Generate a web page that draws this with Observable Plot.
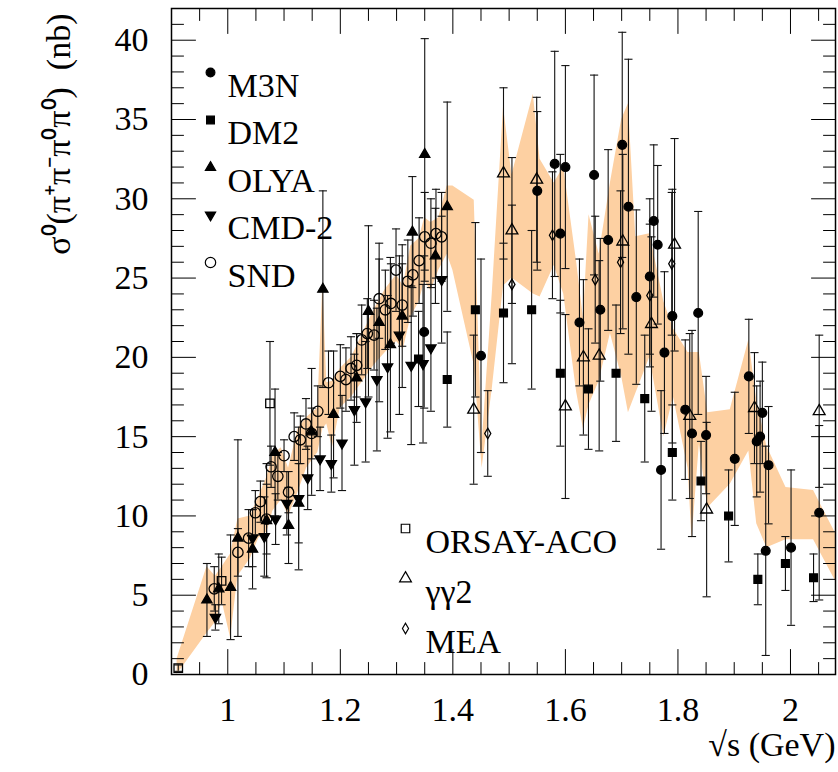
<!DOCTYPE html>
<html>
<head>
<meta charset="utf-8">
<script src="https://cdn.jsdelivr.net/npm/d3@7"></script>
<script src="https://cdn.jsdelivr.net/npm/@observablehq/plot@0.6"></script>
<style>
  html, body { margin: 0; padding: 0; background: #fff; }
  #chart { width: 838px; height: 772px; }
  #chart svg, #chart svg text { font-family: "Liberation Serif", "Times New Roman", serif !important; }
</style>
</head>
<body>
<div id="chart"></div>
<script>
// e+e- -> pi+ pi- pi0 pi0 cross section: sqrt(s) in GeV, sigma in nb, total error in nb

const m3nX   = [1.349, 1.450, 1.550, 1.581, 1.591, 1.600, 1.625, 1.651, 1.662, 1.676, 1.701, 1.712, 1.726, 1.750, 1.757, 1.764, 1.770, 1.776, 1.790, 1.813, 1.825, 1.836, 1.850, 1.901, 1.926, 1.940, 1.946, 1.950, 1.956, 1.961, 2.001, 2.051];
const m3nY   = [21.6, 20.1, 30.5, 32.2, 27.8, 32.0, 22.2, 31.5, 23.0, 27.4, 33.4, 29.5, 23.8, 25.1, 28.6, 27.1, 12.9, 20.3, 22.6, 16.7, 15.2, 22.8, 15.1, 13.6, 18.8, 14.7, 15.0, 16.5, 7.8, 13.2, 8.0, 10.2];
const m3nErr = [4.8, 6.1, 5.0, 7.1, 5.0, 6.4, 4.0, 6.3, 4.5, 5.7, 7.1, 9.3, 5.5, 4.9, 4.8, 5.0, 5.0, 5.1, 8.0, 4.4, 6.5, 6.4, 3.7, 4.2, 3.6, 3.5, 3.5, 3.2, 6.6, 3.7, 4.9, 5.5];

const dm2X   = [1.339, 1.390, 1.440, 1.490, 1.540, 1.591, 1.641, 1.690, 1.741, 1.790, 1.841, 1.890, 1.942, 1.991, 2.041];
const dm2Y   = [19.9, 18.6, 23.0, 22.8, 23.0, 19.0, 18.0, 19.0, 17.4, 14.0, 12.2, 10.0, 6.0, 7.0, 6.1];
const dm2Err = [3.0, 3.0, 5.5, 4.4, 5.0, 4.6, 3.8, 4.3, 4.0, 3.0, 2.5, 2.9, 1.6, 1.7, 1.5];

const olyaX   = [0.963, 0.984, 1.005, 1.018, 1.044, 1.069, 1.084, 1.108, 1.126, 1.149, 1.169, 1.188, 1.229, 1.250, 1.269, 1.289, 1.310, 1.328, 1.350, 1.369, 1.390];
const olyaY   = [4.7, 5.4, 5.5, 8.6, 7.9, 9.7, 14.0, 9.4, 10.8, 15.3, 24.3, 16.4, 18.7, 22.9, 22.2, 20.8, 22.6, 27.9, 32.8, 26.4, 29.5];
const olyaErr = [2.3, 2.2, 3.3, 6.2, 2.5, 3.6, 4.0, 2.4, 2.5, 4.0, 6.2, 4.0, 2.8, 5.4, 5.0, 5.5, 4.5, 3.5, 7.3, 3.0, 6.6];

const cmdX   = [0.978, 1.044, 1.065, 1.085, 1.105, 1.126, 1.142, 1.164, 1.184, 1.203, 1.225, 1.245, 1.265, 1.284, 1.305, 1.326, 1.347, 1.361, 1.380];
const cmdY   = [3.6, 8.6, 8.7, 9.8, 10.8, 11.1, 12.4, 13.6, 13.3, 14.6, 16.7, 17.2, 18.6, 19.4, 21.4, 19.5, 19.6, 20.6, 24.9];
const cmdErr = [0.8, 1.8, 2.5, 1.6, 2.0, 4.5, 2.0, 2.0, 1.8, 3.0, 3.5, 3.8, 4.5, 4.5, 5.0, 5.0, 5.0, 4.0, 4.0];

const sndX   = [0.976, 1.018, 1.037, 1.049, 1.058, 1.069, 1.077, 1.089, 1.100, 1.108, 1.118, 1.129, 1.139, 1.149, 1.160, 1.179, 1.200, 1.210, 1.219, 1.229, 1.238, 1.248, 1.260, 1.269, 1.280, 1.290, 1.299, 1.310, 1.320, 1.329, 1.340, 1.350, 1.361, 1.370, 1.380];
const sndY   = [5.4, 7.7, 8.6, 10.2, 10.9, 9.8, 13.1, 12.5, 13.8, 11.5, 15.0, 14.8, 15.8, 15.2, 16.6, 18.4, 18.8, 18.6, 19.3, 19.5, 21.1, 21.5, 21.4, 23.7, 23.0, 23.4, 25.5, 23.3, 24.8, 25.2, 26.1, 27.6, 27.2, 27.8, 27.6];
const sndErr = [1.4, 1.5, 1.8, 1.4, 1.3, 2.2, 1.3, 1.5, 1.0, 1.3, 1.5, 1.5, 1.6, 1.6, 1.6, 2.0, 2.0, 2.0, 2.0, 2.0, 2.2, 2.2, 2.2, 2.5, 2.5, 2.5, 2.6, 2.6, 2.6, 2.6, 2.7, 2.8, 2.8, 2.8, 2.8];

const orsayX   = [0.912, 0.989, 1.075];
const orsayY   = [0.4, 5.9, 17.1];
const orsayErr = [0.2, 1.5, 3.9];

const gg2X   = [1.437, 1.490, 1.505, 1.549, 1.600, 1.632, 1.660, 1.702, 1.753, 1.794, 1.821, 1.851, 1.936, 2.051];
const gg2Y   = [16.7, 31.6, 28.0, 31.2, 16.9, 20.0, 20.1, 27.3, 22.1, 27.1, 16.3, 10.4, 16.8, 16.6];
const gg2Err = [4.7, 5.4, 4.6, 5.2, 5.8, 4.9, 6.0, 5.5, 5.5, 6.7, 5.2, 5.5, 3.5, 4.8];

const meaX   = [1.462, 1.505, 1.577, 1.653, 1.698, 1.750, 1.789];
const meaY   = [15.2, 24.6, 27.7, 24.9, 26.0, 23.9, 25.9];
const meaErr = [2.7, 5.0, 4.0, 4.0, 4.5, 4.5, 4.5];

// combined cross section band: lower and upper edges
const bandX  = [0.910, 0.963, 0.978, 0.990, 1.005, 1.018, 1.040, 1.055, 1.070, 1.080, 1.095, 1.108, 1.125, 1.140, 1.160, 1.169, 1.176, 1.186, 1.200, 1.220, 1.240, 1.260, 1.280, 1.300, 1.312, 1.325, 1.340, 1.350, 1.361, 1.375, 1.390, 1.400, 1.438, 1.452, 1.470, 1.490, 1.505, 1.543, 1.555, 1.580, 1.597, 1.620, 1.632, 1.642, 1.660, 1.680, 1.700, 1.712, 1.725, 1.750, 1.775, 1.792, 1.818, 1.825, 1.838, 1.853, 1.893, 1.926, 1.940, 1.958, 1.992, 2.041, 2.080];
const bandLo = [0.0, 2.6, 3.3, 4.6, 2.3, 6.2, 7.3, 8.6, 9.0, 10.3, 11.0, 10.0, 11.5, 13.0, 14.0, 15.5, 15.8, 14.3, 16.8, 17.5, 18.5, 19.5, 20.3, 21.0, 20.5, 22.5, 23.5, 24.8, 24.2, 25.5, 26.5, 25.5, 19.5, 13.0, 18.0, 24.5, 25.0, 24.0, 23.8, 25.8, 24.0, 17.8, 15.5, 17.0, 18.5, 21.5, 18.8, 16.5, 17.7, 20.0, 15.0, 17.5, 13.0, 8.5, 14.5, 10.5, 12.0, 14.1, 9.5, 8.0, 8.5, 8.5, 5.9];
const bandHi = [1.0, 6.8, 6.2, 6.8, 7.6, 9.8, 10.0, 11.2, 12.5, 13.8, 14.3, 13.0, 15.5, 16.2, 16.8, 24.7, 18.4, 18.5, 19.3, 20.0, 21.5, 23.0, 24.3, 25.2, 24.5, 27.0, 27.5, 28.8, 28.5, 28.8, 30.8, 30.8, 29.9, 14.5, 24.0, 35.8, 31.5, 36.6, 32.5, 31.0, 32.0, 26.0, 22.5, 29.0, 26.5, 31.0, 35.0, 36.0, 27.6, 27.8, 23.5, 21.8, 20.3, 20.3, 20.3, 16.5, 16.7, 21.1, 17.3, 14.4, 11.8, 11.6, 8.9];

const xTickValues = [1, 1.2, 1.4, 1.6, 1.8, 2];
const yTickValues = [0, 5, 10, 15, 20, 25, 30, 35, 40];
const legendTop = ["M3N", "DM2", "OLYA", "CMD-2", "SND"];
const legendBottom = ["ORSAY-ACO", "γγ2", "MEA"];

const font = "Liberation Serif, Times New Roman, serif";
const bandColor = "#fdd0a2";

// marker shapes
const sqrt3 = Math.sqrt(3);
const triangleDown = {
  draw(context, size) {
    const y = -Math.sqrt(size / (sqrt3 * 3));
    context.moveTo(0, -y * 2);
    context.lineTo(-sqrt3 * y, y);
    context.lineTo(sqrt3 * y, y);
    context.closePath();
  }
};
const capSymbol = {
  draw(context, size) {
    const w = Math.sqrt(size) / 2;
    context.moveTo(-w, 0);
    context.lineTo(w, 0);
  }
};
const tickShape = {
  draw(context, l) {
    context.moveTo(0, 0);
    context.lineTo(0, -l);
  }
};

const series = [
  {name: "M3N",       x: m3nX,   y: m3nY,   err: m3nErr,   symbol: "circle",     fill: "black", r: 4.4},
  {name: "DM2",       x: dm2X,   y: dm2Y,   err: dm2Err,   symbol: "square",     fill: "black", r: 4.4},
  {name: "OLYA",      x: olyaX,  y: olyaY,  err: olyaErr,  symbol: "triangle",   fill: "black", r: 3.8},
  {name: "CMD-2",     x: cmdX,   y: cmdY,   err: cmdErr,   symbol: triangleDown, fill: "black", r: 3.8},
  {name: "SND",       x: sndX,   y: sndY,   err: sndErr,   symbol: "circle",     fill: "none",  r: 5.2},
  {name: "ORSAY-ACO", x: orsayX, y: orsayY, err: orsayErr, symbol: "square",     fill: "none",  r: 4.8},
  {name: "γγ2",       x: gg2X,   y: gg2Y,   err: gg2Err,   symbol: "triangle",   fill: "none",  r: 4.4},
  {name: "MEA",       x: meaX,   y: meaY,   err: meaErr,   symbol: "diamond",    fill: "none",  r: 3.2}
];
const byName = Object.fromEntries(series.map(s => [s.name, s]));

const rows = series.flatMap(s => s.x.map((x, i) => ({set: s.name, x, y: s.y[i], err: s.err[i]})));
const band = bandX.map((x, i) => ({x, lo: bandLo[i], hi: bandHi[i]}));

const xDomain = [0.9, 2.08];
const yDomain = [0, 42];
const xMinor = d3.range(0.95, 2.06, 0.05).map(v => +v.toFixed(2)).filter(v => !xTickValues.some(t => Math.abs(t - v) < 1e-6));
const yMinor = d3.range(1, 42, 1).filter(v => v % 5 !== 0);

const tickMarks = (values, len, side) => {
  const o = {length: len, anchor: "start", shape: tickShape, stroke: "black", strokeWidth: 1};
  if (side === "bottom") return Plot.vector(values, {...o, x: d => d, y: yDomain[0], rotate: 0});
  if (side === "top") return Plot.vector(values, {...o, x: d => d, y: yDomain[1], rotate: 180});
  if (side === "left") return Plot.vector(values, {...o, y: d => d, x: xDomain[0], rotate: 90});
  return Plot.vector(values, {...o, y: d => d, x: xDomain[1], rotate: -90});
};

const legendMarks = (names, x0, y0, step, textDx) => names.flatMap((name, i) => {
  const s = byName[name];
  return [
    Plot.dot([name], {frameAnchor: "top-left", dx: x0, dy: y0 + i * step, symbol: s.symbol, r: s.r,
                      fill: s.fill, stroke: "black", strokeWidth: 1.2}),
    Plot.text([name], {frameAnchor: "top-left", dx: textDx, dy: y0 + i * step, text: d => d,
                       textAnchor: "start", fontSize: 34, fontFamily: font, fill: "black"})
  ];
});

const chart = Plot.plot({
  width: 838,
  height: 772,
  marginLeft: 171,
  marginRight: 3,
  marginTop: 8,
  marginBottom: 98,
  style: {fontFamily: font, background: "white", color: "black"},
  x: {domain: xDomain},
  y: {domain: yDomain},
  marks: [
    Plot.areaY(band, {x: "x", y1: "lo", y2: "hi", fill: bandColor, curve: "linear", clip: true}),
    Plot.ruleX(rows, {x: "x", y1: d => d.y - d.err, y2: d => d.y + d.err, stroke: "#111", strokeWidth: 1.1, clip: true}),
    Plot.dot(rows, {x: "x", y: d => d.y + d.err, symbol: capSymbol, r: 4.6, fill: "none", stroke: "#111", strokeWidth: 1.1, clip: true}),
    Plot.dot(rows, {x: "x", y: d => d.y - d.err, symbol: capSymbol, r: 4.6, fill: "none", stroke: "#111", strokeWidth: 1.1, clip: true}),
    ...series.map(s => Plot.dot(rows.filter(d => d.set === s.name), {
      x: "x", y: "y", symbol: s.symbol, r: s.r, fill: s.fill, stroke: "black", strokeWidth: 1.3, clip: true
    })),
    Plot.frame({stroke: "black", strokeWidth: 1.5}),
    tickMarks(xTickValues, 25, "bottom"),
    tickMarks(xMinor, 12, "bottom"),
    tickMarks(xTickValues, 25, "top"),
    tickMarks(xMinor, 12, "top"),
    tickMarks(yTickValues, 24, "left"),
    tickMarks(yMinor, 12, "left"),
    tickMarks(yTickValues, 24, "right"),
    tickMarks(yMinor, 12, "right"),
    Plot.axisX({ticks: xTickValues, tickSize: 0, tickPadding: 22, fontSize: 34, fontFamily: font, label: null,
                tickFormat: d => String(+d.toFixed(1))}),
    Plot.axisY({ticks: yTickValues, tickSize: 0, tickPadding: 23, fontSize: 34, fontFamily: font, label: null,
                tickFormat: d => String(d)}),
    Plot.text(["√s (GeV)"], {frameAnchor: "bottom-right", dy: 81, text: d => d, textAnchor: "end",
                             fontSize: 34, fontFamily: font}),
    Plot.text(["σ⁰(π⁺π⁻π⁰π⁰)  (nb)"], {frameAnchor: "top-left", dx: -126, dy: 5, rotate: -90,
                                        text: d => d, textAnchor: "end", fontSize: 34, fontFamily: font}),
    ...legendMarks(legendTop, 39, 64, 47.5, 56),
    ...legendMarks(legendBottom, 234, 520, 50, 254)
  ]
});

document.getElementById("chart").appendChild(chart);
</script>
</body>
</html>
